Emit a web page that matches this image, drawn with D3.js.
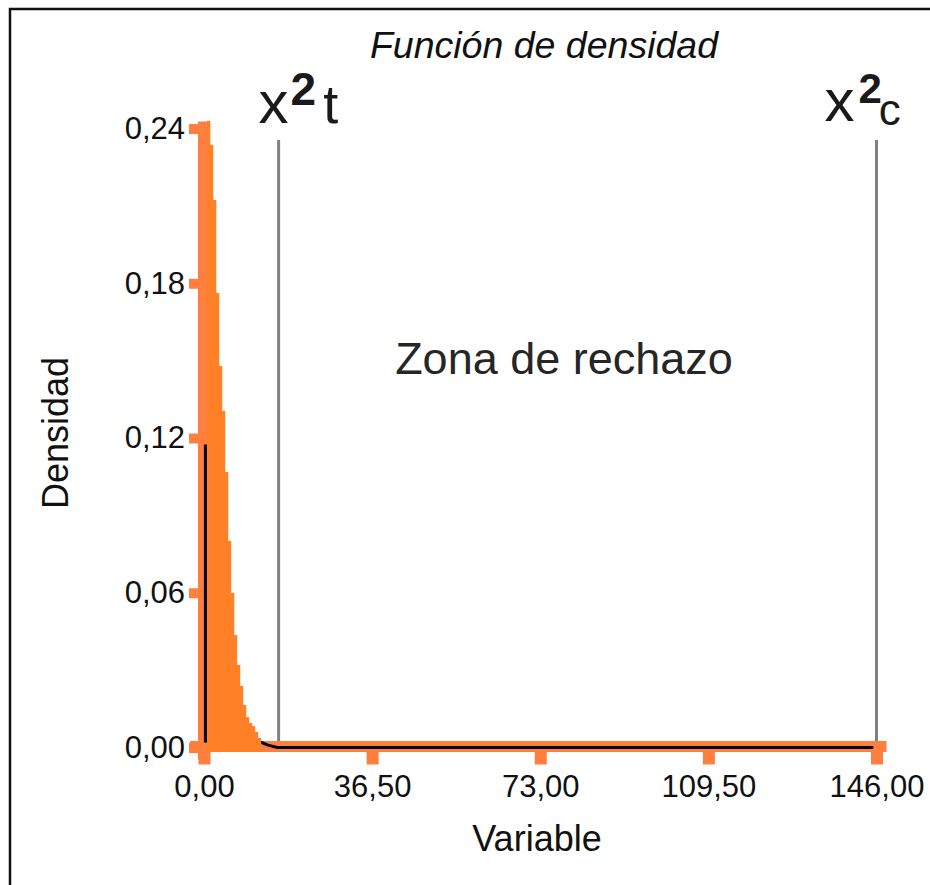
<!DOCTYPE html>
<html>
<head>
<meta charset="utf-8">
<script src="https://cdn.jsdelivr.net/npm/d3@7"></script>
<style>
  body { margin: 0; background: #fff; }
  svg { display: block; font-family: 'Liberation Sans', Arial, sans-serif; }
</style>
</head>
<body>
<svg id="chart"></svg>
<script>
// histogram bins (start of bin) and density
let binWidth = 0.65
let binStart = [0.65, 1.30, 1.95, 2.60, 3.25, 3.90, 4.55, 5.20, 5.85, 6.50, 7.15, 7.80, 8.45, 9.10, 9.75, 10.40, 11.05, 11.70]
let density = [0.243, 0.2336, 0.2123, 0.1762, 0.1479, 0.1305, 0.1068, 0.0801, 0.0599, 0.0436, 0.0320, 0.0239, 0.0165, 0.0118, 0.0095, 0.0083, 0.0060, 0.0037]

// black curve
let curveX = [0.3, 0.3, 12.4, 13.9, 15.9, 145.3]
let curveY = [0.1175, 0.0025, 0.0020, 0.0009, 0.0, 0.0]

// critical values
let critNames = ['t', 'c']
let critX = [16.2, 146]
let critTop = 0.2355

let xTicks = [0, 36.5, 73, 109.5, 146]
let yTicks = [0, 0.06, 0.12, 0.18, 0.24]

let width = 930
let height = 885
let light = '#ff7f3f'
let dark = '#ff8026'

let svg = d3.select('#chart').attr('width', width).attr('height', height)

svg.append('rect').attr('width', width).attr('height', height).attr('fill', '#fff')
// frame
svg.append('rect')
   .attr('x', 10).attr('y', 9)
   .attr('width', width).attr('height', height)
   .attr('fill', 'none').attr('stroke', '#111').attr('stroke-width', 2.5)

let xScale = d3.scaleLinear().domain([0, 146]).range([204, 876.5])
let yScale = d3.scaleLinear().domain([0, 0.24]).range([747.5, 128.5])

let fmt = d => d3.format('.2f')(d).replace('.', ',')

// title
svg.append('text')
   .attr('x', 544).attr('y', 58)
   .attr('text-anchor', 'middle')
   .attr('font-size', 37.5).attr('font-style', 'italic')
   .attr('fill', '#111')
   .text('Función de densidad')

// critical lines
critX.forEach((c, i) => {
    svg.append('line')
       .attr('x1', xScale(c)).attr('x2', xScale(c))
       .attr('y1', yScale(critTop)).attr('y2', yScale(0))
       .attr('stroke', '#808080').attr('stroke-width', 3)
})

// labels x²t and x²c
let lt = svg.append('text').attr('fill', '#1a1a1a')
   .attr('x', xScale(critX[0]) - 20).attr('y', 123)
lt.append('tspan').attr('font-size', 60).text('x')
lt.append('tspan').attr('font-size', 46).attr('font-weight', 'bold').attr('dx', 2).attr('dy', -18).text('2')
lt.append('tspan').attr('font-size', 54).attr('dx', 7).attr('dy', 18).text(critNames[0])

let lc = svg.append('text').attr('fill', '#1a1a1a')
   .attr('x', xScale(critX[1]) - 52).attr('y', 121)
lc.append('tspan').attr('font-size', 60).text('x')
lc.append('tspan').attr('font-size', 42).attr('font-weight', 'bold').attr('dx', 4).attr('dy', -18).text('2')
lc.append('tspan').attr('font-size', 44).attr('dx', -3).attr('dy', 22).text(critNames[1])

// zone text
svg.append('text')
   .attr('x', 564).attr('y', 374)
   .attr('text-anchor', 'middle')
   .attr('font-size', 45).attr('fill', '#262626')
   .text('Zona de rechazo')

// x axis
let xAxis = d3.axisBottom(xScale).tickValues(xTicks).tickFormat(fmt)
              .tickSize(18).tickPadding(10.5).tickSizeOuter(0)
let gx = svg.append('g')
   .attr('transform', 'translate(0,' + (yScale(0) - 1) + ')')
   .call(xAxis)
gx.select('.domain').remove()
gx.insert('line', ':first-child')
  .attr('x1', xScale.range()[0] - 14).attr('x2', xScale.range()[1] + 10)
  .attr('stroke', light).attr('stroke-width', 11)
gx.selectAll('.tick line').attr('stroke', light).attr('stroke-width', 12)
gx.selectAll('.tick text').attr('font-size', 31).attr('fill', '#111').attr('font-family', null)

// y axis
let yAxis = d3.axisLeft(yScale).tickValues(yTicks).tickFormat(fmt)
              .tickSize(13.5).tickPadding(4).tickSizeOuter(0)
let gy = svg.append('g')
   .attr('transform', 'translate(202.5,0)')
   .call(yAxis)
gy.select('.domain').remove()
gy.insert('line', ':first-child')
  .attr('y1', yScale.range()[1] - 7).attr('y2', yScale.range()[0] + 12)
  .attr('stroke', light).attr('stroke-width', 9)
gy.selectAll('.tick line').attr('stroke', light).attr('stroke-width', 10)
gy.selectAll('.tick text').attr('font-size', 31).attr('fill', '#111').attr('font-family', null)

// curve
let pts = curveX.map((x, i) => [x, curveY[i]])
svg.append('path')
   .datum(pts)
   .attr('d', d3.line().x(d => xScale(d[0])).y(d => yScale(d[1])))
   .attr('fill', 'none').attr('stroke', '#000').attr('stroke-width', 3)

// histogram
svg.append('g').selectAll('rect')
   .data(binStart)
   .enter()
   .append('rect')
   .attr('x', d => xScale(d))
   .attr('width', d => xScale(d + binWidth) - xScale(d) + 0.3)
   .attr('y', (d, i) => yScale(density[i]))
   .attr('height', (d, i) => yScale(0) + 4.5 - yScale(density[i]))
   .attr('fill', dark)

// axis titles
svg.append('text')
   .attr('x', 537).attr('y', 851)
   .attr('text-anchor', 'middle')
   .attr('font-size', 36).attr('fill', '#111')
   .text('Variable')

svg.append('text')
   .attr('transform', 'translate(68,433) rotate(-90)')
   .attr('text-anchor', 'middle')
   .attr('font-size', 36).attr('fill', '#111')
   .text('Densidad')
</script>
</body>
</html>
